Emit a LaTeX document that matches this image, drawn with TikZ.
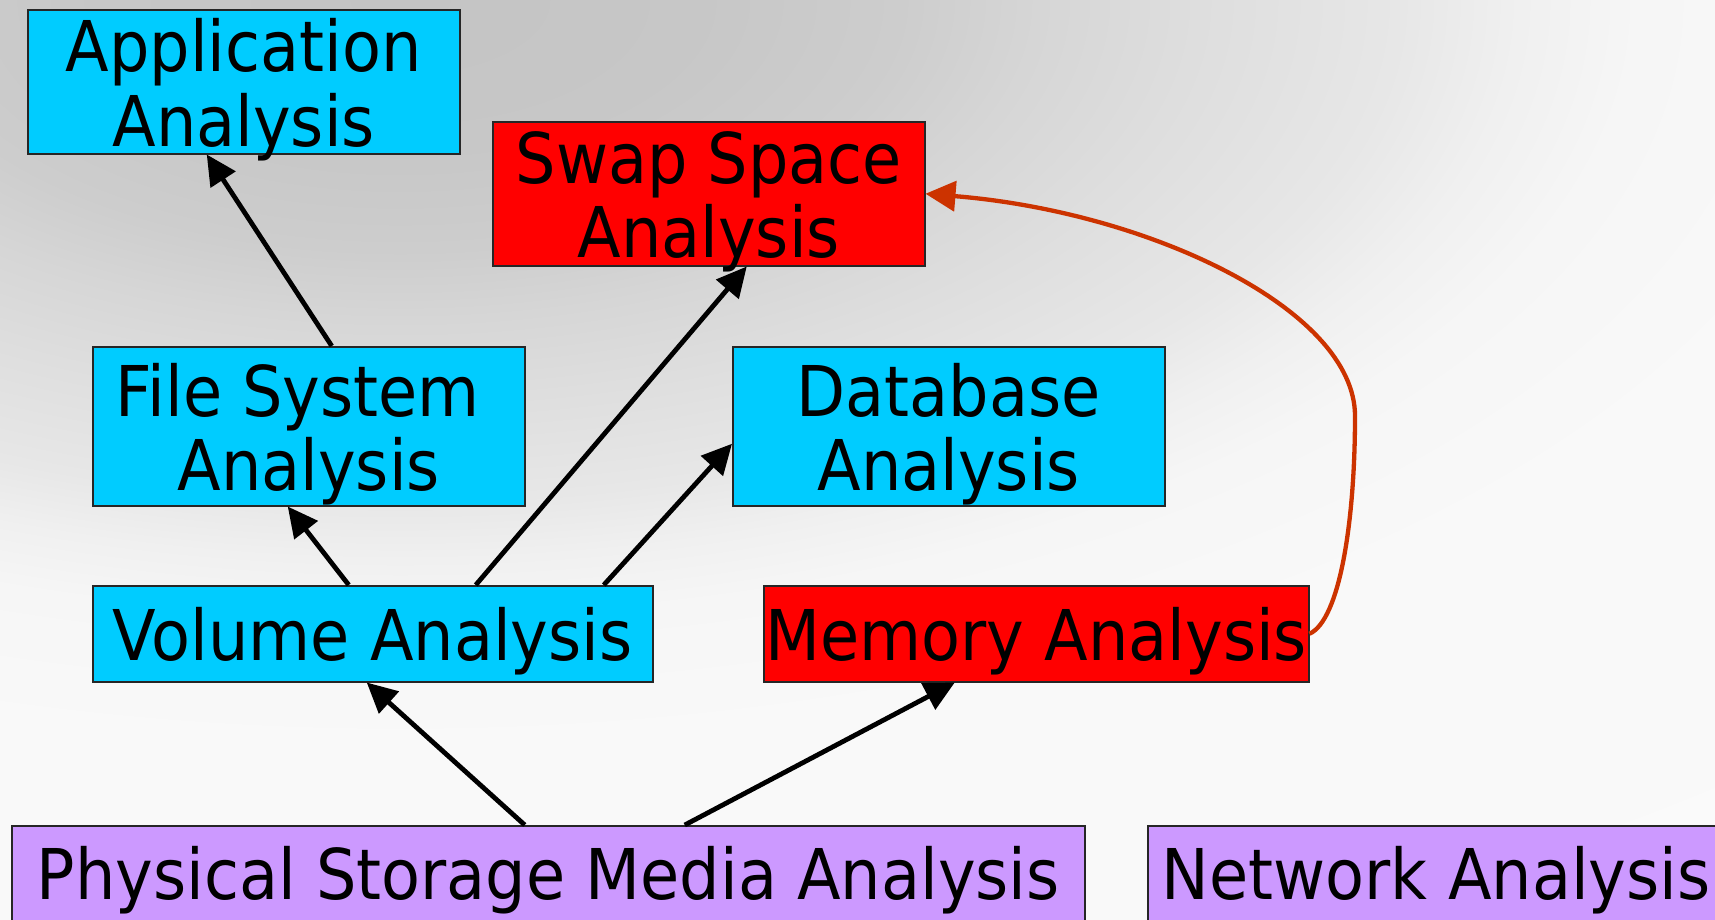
\documentclass[tikz,border=0pt]{standalone}
\usepackage{fontspec}
\setmainfont{DejaVu Sans}[FakeStretch=0.91]
\usetikzlibrary{arrows.meta}
\definecolor{cyanbox}{RGB}{0,204,255}
\definecolor{redbox}{RGB}{255,0,0}
\definecolor{lilacbox}{RGB}{204,153,255}
\definecolor{curvecol}{RGB}{204,51,0}
\definecolor{bgA}{RGB}{196,196,196}
\definecolor{bgB}{RGB}{199,199,199}
\definecolor{bgC}{RGB}{205,205,205}
\definecolor{bgD}{RGB}{214,214,214}
\definecolor{bgE}{RGB}{222,222,222}
\definecolor{bgF}{RGB}{231,231,231}
\definecolor{bgG}{RGB}{240,240,240}
\definecolor{bgH}{RGB}{246,246,246}
\definecolor{bgI}{RGB}{249,249,249}
\definecolor{bgJ}{RGB}{250,250,250}
\pgfdeclareradialshading{bgshade}{\pgfpoint{0bp}{0bp}}{color(0bp)=(bgA); color(2.88bp)=(bgB); color(4.81bp)=(bgC); color(6.15bp)=(bgD); color(7.69bp)=(bgE); color(9.62bp)=(bgF); color(10.77bp)=(bgG); color(11.92bp)=(bgH); color(14.42bp)=(bgI); color(25bp)=(bgJ); color(50bp)=(bgJ)}
\begin{document}
\begin{tikzpicture}[x=1pt,y=-1pt,
  box/.style={draw=black!85, line width=1.5pt, inner sep=0pt, align=center,
    font=\fontsize{70}{74.5}\selectfont, anchor=north west},
  conn/.style={line width=4.8pt, draw=black, -{Triangle[length=30pt,width=29pt]}},
  redconn/.style={line width=4.3pt, draw=curvecol, -{Triangle[length=30pt,width=30pt]}}]
\useasboundingbox (0,0) rectangle (1715,919);
\begin{scope}
  \clip (0,0) rectangle (1715,919);
  \fill[bgJ] (0,0) rectangle (1715,919);
  \shade[shading=bgshade] (400,0) ellipse[x radius=2600pt, y radius=1300pt];
\end{scope}

\node[box, fill=cyanbox, minimum width=432pt, text height=136.5pt, text depth=7.5pt] (app) at (27,9) {Application\\Analysis};
\node[box, fill=redbox, minimum width=432pt, text height=136pt, text depth=8pt] (swap) at (492,121) {Swap Space\\Analysis};
\node[box, fill=cyanbox, minimum width=432pt, text height=144pt, text depth=15pt] (fs) at (92,346) {File System\kern22pt\\Analysis};
\node[box, fill=cyanbox, minimum width=432pt, text height=144pt, text depth=15pt] (db) at (732,346) {Database\\Analysis};
\node[box, fill=cyanbox, minimum width=560pt, text height=74.5pt, text depth=21.5pt] (vol) at (92,585) {Volume Analysis};
\node[box, fill=redbox, minimum width=545pt, text height=74.5pt, text depth=21.5pt] (mem) at (763,585) {Memory Analysis};
\node[box, fill=lilacbox, minimum width=1073pt, text height=74pt, text depth=40pt] (phys) at (11,825) {Physical Storage Media Analysis};
\node[box, fill=lilacbox, minimum width=577pt, text height=74pt, text depth=40pt] (net) at (1147,825) {Network Analysis};

\draw[conn] ([xshift=23pt]fs.north) -- ([xshift=-37pt]app.south);
\draw[conn] ([xshift=-24pt]vol.north) -- ([xshift=-21pt]fs.south);
\draw[conn] ([xshift=103pt]vol.north) -- ([xshift=38pt]swap.south);
\draw[conn] ([xshift=231pt]vol.north) -- ([yshift=-17.5pt]db.west);
\draw[conn] ([xshift=-23.5pt]phys.north) -- ([xshift=-6pt]vol.south);
\draw[conn] ([xshift=136.5pt]phys.north) -- ([xshift=-81.5pt]mem.south);
\draw[redconn] (mem.east) .. controls (1340,620) and (1355,520) .. (1355,416)
  .. controls (1355,310) and (1150,212) .. (swap.east);
\end{tikzpicture}
\end{document}
